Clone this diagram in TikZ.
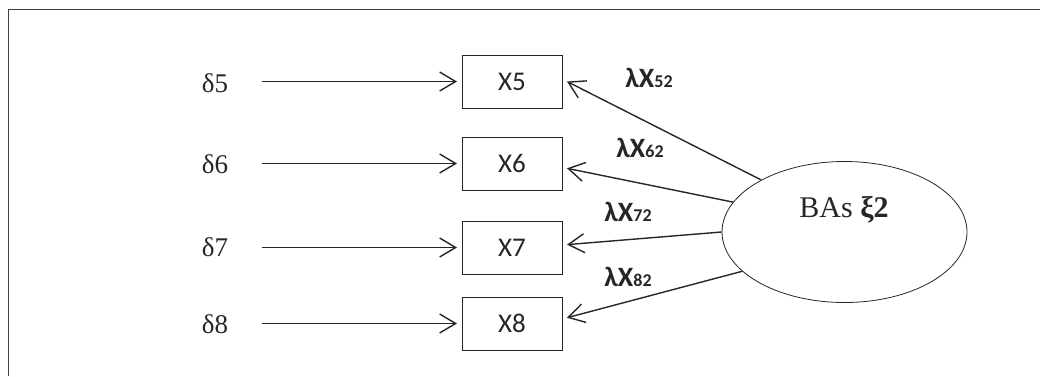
\documentclass[tikz,border=0pt]{standalone}
\usepackage{fontspec}
\setmainfont{Liberation Serif}
\newfontfamily\carlito{Carlito}
\usetikzlibrary{arrows.meta,shapes.geometric}

\begin{document}
\begin{tikzpicture}[x=1pt,y=-1pt]
\tikzstyle{every node}+=[inner sep=0pt, text=black!85]
\tikzstyle{obs}=[draw=black!85, line width=0.8pt, minimum width=100pt, minimum height=53pt, outer sep=5pt, font=\carlito\fontsize{27}{27}\selectfont]
\tikzstyle{err}=[anchor=base, font=\fontsize{27}{27}\selectfont]
\tikzstyle{lam}=[anchor=base, font=\carlito\bfseries\fontsize{28}{28}\selectfont]
\tikzstyle{link}=[black!85, line width=1.4pt, -{Straight Barb[length=16pt,width=19pt]}]
\useasboundingbox (0,0) rectangle (1040,376);
\draw [black!75, line width=1pt] (8,376) -- (8,9) -- (1040,9);
% indicators
\node [obs] (x5) at (512,81.5) {X5};
\node [obs] (x6) at (512,163.5) {X6};
\node [obs] (x7) at (512,247.5) {X7};
\node [obs] (x8) at (512,323.5) {X8};
% errors
\node [err] (d5) at (215,92) {δ5};
\node [err] (d6) at (215,173) {δ6};
\node [err] (d7) at (215,256) {δ7};
\node [err] (d8) at (215,333) {δ8};
\draw [link, shorten <=34pt] (d5.east |- x5) -- (x5.west);
\draw [link, shorten <=34pt] (d6.east |- x6) -- (x6.west);
\draw [link, shorten <=34pt] (d7.east |- x7) -- (x7.west);
\draw [link, shorten <=34pt] (d8.east |- x8) -- (x8.west);
% latent
\node [draw=black!85, line width=0.8pt, ellipse, minimum width=245pt, minimum height=141pt] (bas) at (844.5,232) {};
\node [anchor=base, font=\fontsize{30}{30}\selectfont] (bastxt) at (844,217) {BAs {\bfseries ξ2}};
\draw [link] (bas.148) -- (x5.east);
\draw [link] (bas.165) -- (x6.355);
\draw [link] (bas.180) -- (x7.3);
\draw [link] (bas.201) -- (x8.6);
% loadings
\node [lam] (l52) at (649,87) {λX{\fontsize{18}{18}\selectfont 52}};
\node [lam] (l62) at (640,157) {λX{\fontsize{18}{18}\selectfont 62}};
\node [lam] (l72) at (628,221) {λX{\fontsize{18}{18}\selectfont 72}};
\node [lam] (l82) at (628,286) {λX{\fontsize{18}{18}\selectfont 82}};
\end{tikzpicture}
\end{document}
